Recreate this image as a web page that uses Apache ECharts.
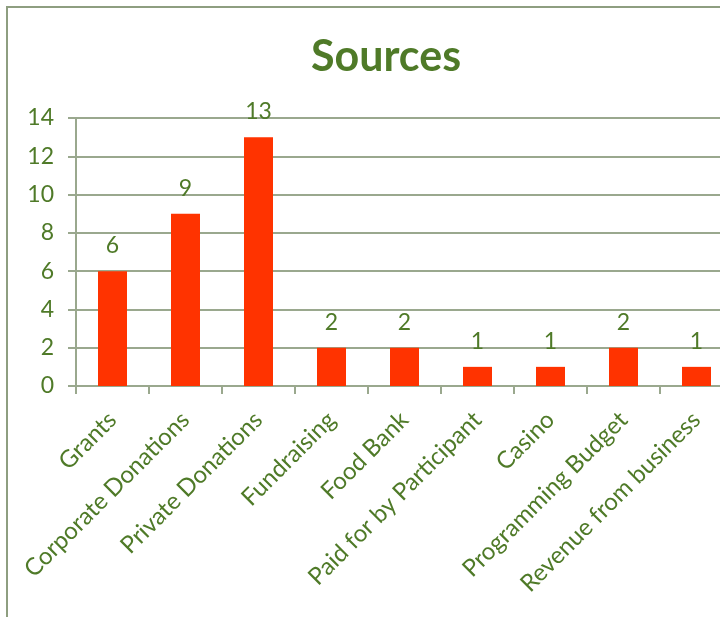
<!DOCTYPE html>
<html><head><meta charset="utf-8">
<script src="https://cdn.jsdelivr.net/npm/echarts@6/dist/echarts.min.js"></script>
<style>html,body{margin:0;padding:0;background:#fff;overflow:hidden}#c{width:740px;height:617px}</style>
</head><body><div id="c"></div>
<script>
const categories = ["Grants","Corporate Donations","Private Donations","Fundraising","Food Bank","Paid for by Participant","Casino","Programming Budget","Revenue from business"];
const values = [6,9,13,2,2,1,1,2,1];
const yTicks = {min:0, max:14, interval:2};
const green = '#4F7A28', lineC = '#9AA88E';
const chart = echarts.init(document.getElementById('c'), null, {renderer:'canvas'});
chart.setOption({
  animation:false,
  backgroundColor:'#fff',
  title:{text:'Sources', left:381, top:31, textAlign:'center',
    textStyle:{color:green, fontFamily:'Lato', fontWeight:'bold', fontSize:43}},
  graphic:[{type:'rect', shape:{x:7,y:7,width:800,height:700}, style:{fill:'none', stroke:'#8E9E80', lineWidth:2}, silent:true}],
  grid:{left:76, top:118, width:657, height:268},
  xAxis:{type:'category', data:categories,
    axisLine:{lineStyle:{color:lineC, width:2}},
    axisTick:{show:true, length:8, lineStyle:{color:lineC, width:2}},
    axisLabel:{rotate:45, interval:0, color:green, fontFamily:'Lato', fontSize:24, margin:30}},
  yAxis:{type:'value', min:yTicks.min, max:yTicks.max, interval:yTicks.interval,
    axisLine:{show:true, lineStyle:{color:lineC, width:2}},
    axisTick:{show:true, length:8, lineStyle:{color:lineC, width:2}},
    splitLine:{lineStyle:{color:lineC, width:2}},
    axisLabel:{color:green, fontFamily:'Lato', fontSize:23, margin:22}},
  series:[{type:'bar', data:values, barWidth:29,
    itemStyle:{color:'#FF3300'},
    label:{show:true, position:'top', distance:14, color:green, fontFamily:'Lato', fontSize:23}}]
});
</script></body></html>
